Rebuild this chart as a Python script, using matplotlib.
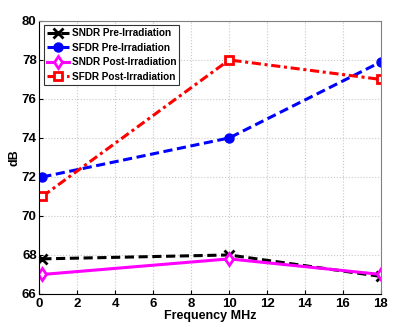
import matplotlib.pyplot as plt

freq = [0.15, 10, 18]
sndr_pre = [67.8, 68.0, 66.9]
sfdr_pre = [72.0, 74.0, 77.9]
sndr_post = [67.0, 67.8, 67.0]
sfdr_post = [71.0, 78.0, 77.0]

xticks = [0, 2, 4, 6, 8, 10, 12, 14, 16, 18]
yticks = [66, 68, 70, 72, 74, 76, 78, 80]

plt.rcParams["font.family"] = ["Liberation Sans", "DejaVu Sans"]
plt.rcParams["font.weight"] = "bold"

fig = plt.figure(figsize=(4.05, 3.27), dpi=100)
ax = fig.add_axes([0.0975, 0.101, 0.843, 0.835])

ax.plot(freq, sndr_pre, color="black", ls=(0, (3, 1.5)), lw=2.2, marker="x",
        ms=6.5, mew=2, label="SNDR Pre-Irradiation")
ax.plot(freq, sfdr_pre, color="blue", ls=(0, (3, 1.5)), lw=2.2, marker="o",
        ms=6.5, label="SFDR Pre-Irradiation")
ax.plot(freq, sndr_post, color="magenta", ls="-", lw=2.2, marker="d",
        ms=6.5, mfc="white", mew=2, label="SNDR Post-Irradiation")
ax.plot(freq, sfdr_post, color="red", ls=(0, (3, 1.2, 1, 1.2)), lw=2.2, marker="s",
        ms=5.5, mfc="white", mew=2, label="SFDR Post-Irradiation")

ax.set_xlim(0, 18)
ax.set_ylim(66, 80)
ax.set_xticks(xticks)
ax.set_yticks(yticks)
ax.tick_params(labelsize=9.5, direction="in", length=3)
ax.tick_params(axis="x", pad=3)
ax.tick_params(axis="y", pad=2)
for lab in ax.get_xticklabels() + ax.get_yticklabels():
    lab.set_fontweight("bold")
ax.grid(True, color="#c8c8c8", ls=":", lw=0.8)
ax.spines["top"].set_color("gray")
ax.spines["right"].set_color("gray")

ax.set_xlabel("Frequency MHz", fontsize=9, fontweight="bold", labelpad=0)
ax.set_ylabel("dB", fontsize=9, fontweight="bold", labelpad=1)

leg = ax.legend(loc="upper left", fontsize=7.2, frameon=True, fancybox=False,
                edgecolor="black", handlelength=2.2, borderpad=0.3,
                labelspacing=0.45, handletextpad=0.3, borderaxespad=0.45)
leg.get_frame().set_linewidth(0.8)
for t in leg.get_texts():
    t.set_fontweight("bold")

fig.savefig("out.png", dpi=100)
